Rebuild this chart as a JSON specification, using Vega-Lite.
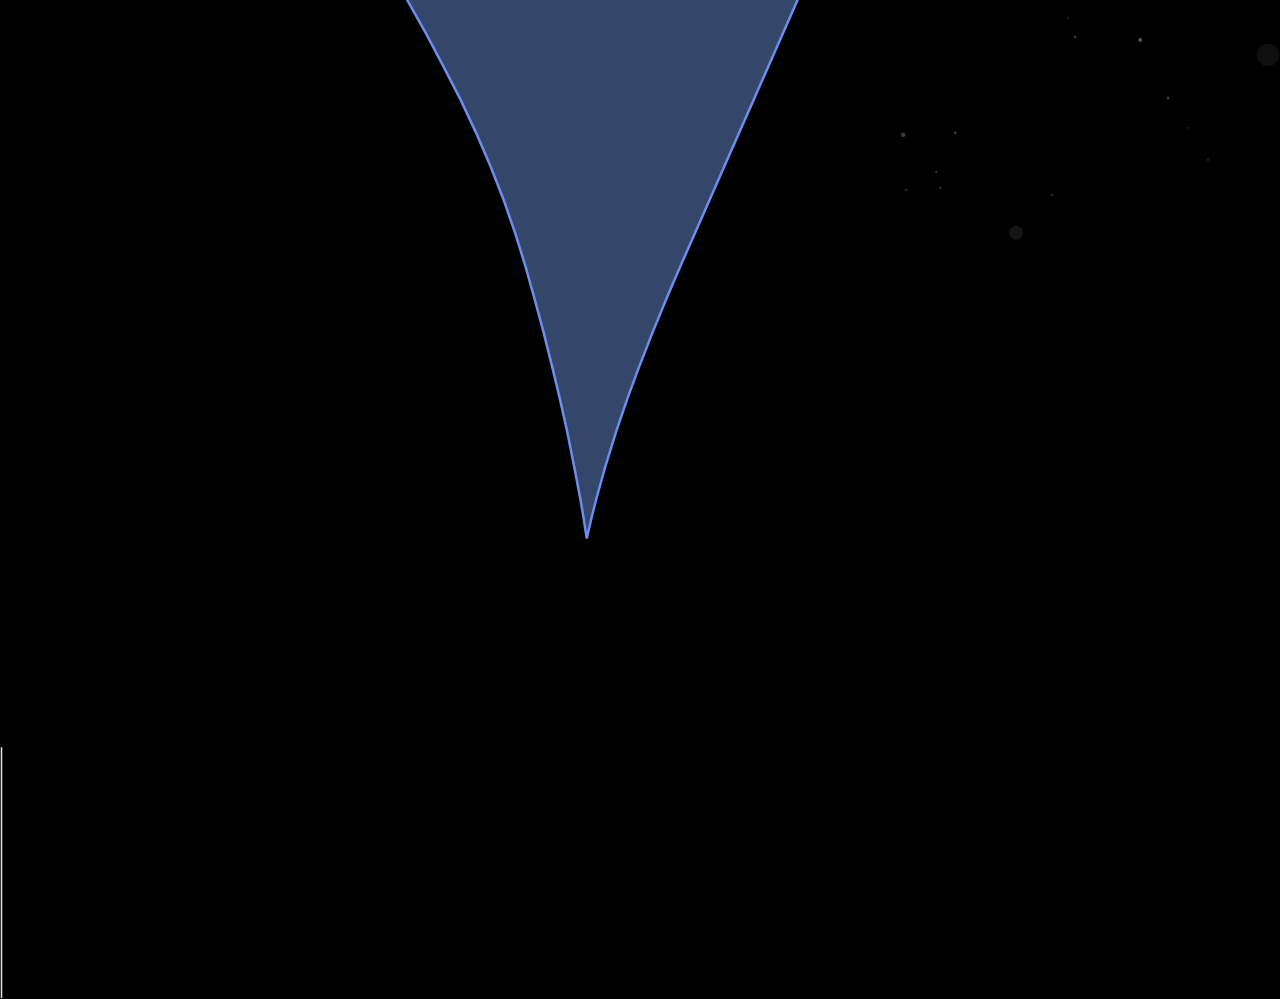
{
  "$schema": "https://vega.github.io/schema/vega-lite/v6.json",
  "autosize": {"type": "fit", "contains": "padding"},
  "width": 1280,
  "height": 999,
  "padding": 0,
  "background": "#000000",
  "config": {"view": {"stroke": null}},
  "datasets": {
    "funnel": [
      {"y": -6, "xl": 403.1, "xr": 799.8},
      {"y": 0, "xl": 406.5, "xr": 797.2},
      {"y": 33, "xl": 425, "xr": 782.7},
      {"y": 67, "xl": 443, "xr": 767.7},
      {"y": 100, "xl": 460, "xr": 753.2},
      {"y": 133, "xl": 475.5, "xr": 738.7},
      {"y": 167, "xl": 490.1, "xr": 723.7},
      {"y": 200, "xl": 503, "xr": 709.2},
      {"y": 233, "xl": 514.5, "xr": 694.7},
      {"y": 267, "xl": 525, "xr": 679.7},
      {"y": 300, "xl": 534.2, "xr": 665.5},
      {"y": 333, "xl": 543.1, "xr": 652},
      {"y": 367, "xl": 551.6, "xr": 638.7},
      {"y": 400, "xl": 559.5, "xr": 626.5},
      {"y": 433, "xl": 566.8, "xr": 615.3},
      {"y": 467, "xl": 573.6, "xr": 604.8},
      {"y": 500, "xl": 579.9, "xr": 595.6},
      {"y": 520, "xl": 583.3, "xr": 590.6},
      {"y": 539, "xl": 586.2, "xr": 586.2}
    ],
    "stars": [
      {"x": 1140, "y": 40, "s": 14, "o": 0.45},
      {"x": 1075, "y": 37, "s": 6, "o": 0.3},
      {"x": 1268, "y": 55, "s": 500, "o": 0.08},
      {"x": 1168, "y": 98, "s": 8, "o": 0.3},
      {"x": 903, "y": 135, "s": 20, "o": 0.3},
      {"x": 955, "y": 133, "s": 8, "o": 0.3},
      {"x": 936, "y": 172, "s": 6, "o": 0.25},
      {"x": 1016, "y": 233, "s": 200, "o": 0.1},
      {"x": 1208, "y": 160, "s": 10, "o": 0.15},
      {"x": 906, "y": 190, "s": 6, "o": 0.25},
      {"x": 940, "y": 188, "s": 6, "o": 0.2},
      {"x": 1052, "y": 195, "s": 6, "o": 0.2},
      {"x": 1068, "y": 18, "s": 5, "o": 0.2},
      {"x": 1188, "y": 128, "s": 5, "o": 0.15}
    ],
    "edge": [
      {"x": 0.5, "y": 748, "y2": 999}
    ]
  },
  "layer": [
    {
      "data": {"name": "stars"},
      "mark": {"type": "circle", "color": "#cccccc", "clip": true},
      "encoding": {
        "x": {"field": "x", "type": "quantitative", "scale": {"domain": [0, 1280]}, "axis": null},
        "y": {"field": "y", "type": "quantitative", "scale": {"domain": [0, 999], "reverse": true}, "axis": null},
        "size": {"field": "s", "type": "quantitative", "scale": null, "legend": null},
        "opacity": {"field": "o", "type": "quantitative", "scale": null, "legend": null}
      }
    },
    {
      "data": {"name": "funnel"},
      "mark": {"type": "area", "orient": "horizontal", "interpolate": "linear", "fill": "#34476a", "fillOpacity": 1, "stroke": "#6a8ff0", "strokeWidth": 2.5, "strokeJoin": "miter", "clip": true},
      "encoding": {
        "y": {"field": "y", "type": "quantitative", "scale": {"domain": [0, 999], "reverse": true}, "axis": null},
        "x": {"field": "xl", "type": "quantitative", "scale": {"domain": [0, 1280]}, "axis": null},
        "x2": {"field": "xr"}
      }
    },
    {
      "data": {"name": "edge"},
      "mark": {"type": "rule", "color": "#e6e6e6", "strokeWidth": 1.5},
      "encoding": {
        "x": {"field": "x", "type": "quantitative", "scale": {"domain": [0, 1280]}, "axis": null},
        "y": {"field": "y", "type": "quantitative", "scale": {"domain": [0, 999], "reverse": true}, "axis": null},
        "y2": {"field": "y2"}
      }
    }
  ]
}
